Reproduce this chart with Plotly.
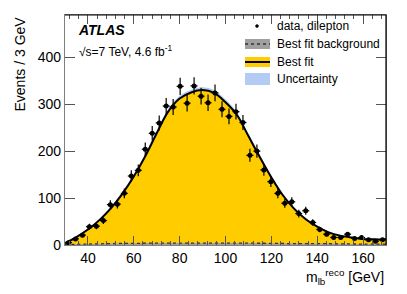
import numpy as np
import plotly.graph_objects as go

# ---- data ----
bin_centers = [31.52, 34.57, 37.61, 40.65, 43.70, 46.74, 49.78, 52.83, 55.87, 58.91,
               61.96, 65.00, 68.04, 71.09, 74.13, 77.17, 80.22, 83.26, 86.30, 89.35,
               92.39, 95.43, 98.48, 101.52, 104.57, 107.61, 110.65, 113.70, 116.74, 119.78,
               122.83, 125.87, 128.91, 131.96, 135.00, 138.04, 141.09, 144.13, 147.17, 150.22,
               153.26, 156.30, 159.35, 162.39, 165.43, 168.48]
data_counts = [5, 13, 21, 39, 40, 52, 86, 87, 110, 147,
               159, 204, 238, 260, 296, 294, 338, 302, 339, 317,
               303, 324, 289, 274, 284, 261, 191, 200, 160, 135,
               110, 89, 92, 67, 73, 48, 33, 23, 16, 16,
               23, 14, 16, 11, 8, 11]
half_bin = 1.52

fit_x = [30, 35, 40, 45, 50, 55, 60, 65, 70, 75, 80, 85, 90, 95, 100, 105, 110, 115, 120,
         125, 130, 135, 140, 145, 150, 155, 160, 165, 170]
fit_y = [4, 17, 33, 53, 78, 109, 146, 189, 238, 284, 312, 325, 330, 324, 304, 277, 232, 187, 144,
         106, 77, 55, 39, 27, 20, 16, 13, 12, 12]
fit_unc = [1, 2, 3, 3, 4, 4, 5, 5, 6, 6, 6, 6, 6, 6, 6, 6, 5, 5, 4,
           4, 3, 3, 2, 2, 2, 1, 1, 1, 1]

bg_x = [30, 40, 50, 60, 70, 80, 90, 100, 110, 120, 130, 140, 150, 160, 170]
bg_y = [1, 2, 3, 3.5, 4, 4, 4, 4, 4, 3.5, 3, 3, 2.5, 2, 2]

x_ticks = [40, 60, 80, 100, 120, 140, 160]
y_ticks = [0, 100, 200, 300, 400]

FONT = "Liberation Sans, Arial, Helvetica, sans-serif"
YELLOW = "#ffcc00"
BLUE = "#b3cbf5"
GREY = "#a0a0a0"

fig = go.Figure()

band_lo = [y - u for y, u in zip(fit_y, fit_unc)]
band_hi = [y + u for y, u in zip(fit_y, fit_unc)]

fig.add_trace(go.Scatter(x=fit_x, y=band_lo, mode="lines", line=dict(width=0, shape="spline"),
                         showlegend=False, hoverinfo="skip"))
fig.add_trace(go.Scatter(x=fit_x, y=band_hi, mode="lines", line=dict(width=0, shape="spline"),
                         fill="tonexty", fillcolor=BLUE, showlegend=False, hoverinfo="skip"))
fig.add_trace(go.Scatter(x=fit_x, y=fit_y, mode="lines", line=dict(width=0, shape="spline"),
                         fill="tozeroy", fillcolor=YELLOW, showlegend=False, hoverinfo="skip"))
fig.add_trace(go.Scatter(x=bg_x, y=bg_y, mode="lines", line=dict(width=0, shape="spline"),
                         fill="tozeroy", fillcolor=GREY, showlegend=False, hoverinfo="skip"))
fig.add_trace(go.Scatter(x=bg_x, y=bg_y, mode="lines",
                         line=dict(width=1.3, color="#333333", dash="dot", shape="spline"),
                         showlegend=False, hoverinfo="skip"))
fig.add_trace(go.Scatter(x=fit_x, y=fit_y, mode="lines", line=dict(width=2, color="black", shape="spline"),
                         showlegend=False, hoverinfo="skip"))

errs = np.sqrt(np.array(data_counts, dtype=float))
fig.add_trace(go.Scatter(x=bin_centers, y=data_counts, mode="markers",
                         marker=dict(color="black", size=5),
                         error_y=dict(type="data", array=errs, color="black", thickness=1.2, width=0),
                         error_x=dict(type="constant", value=half_bin, color="black", thickness=1.2, width=0),
                         showlegend=False))

# frame top/right in black
fig.add_shape(type="line", xref="paper", yref="paper", x0=0, x1=1, y0=1, y1=1,
              line=dict(color="black", width=1.2))
fig.add_shape(type="line", xref="paper", yref="paper", x0=1, x1=1, y0=0, y1=1,
              line=dict(color="black", width=1.2))

# legend (manual)
def px_to_paper_x(px):
    return (px - 65) / (386 - 65)

def px_to_paper_y(py):
    return (245 - py) / (245 - 15)

rows = [26, 44, 62, 79]
labels = ["data, dilepton", "Best fit background", "Best fit", "Uncertainty"]
bx0, bx1 = 245, 270
# data marker
fig.add_shape(type="circle", xref="paper", yref="paper",
              x0=px_to_paper_x(255.5), x1=px_to_paper_x(258.5),
              y0=px_to_paper_y(rows[0] + 1.5), y1=px_to_paper_y(rows[0] - 1.5),
              fillcolor="black", line=dict(color="black", width=0.5))
# background box
fig.add_shape(type="rect", xref="paper", yref="paper",
              x0=px_to_paper_x(bx0), x1=px_to_paper_x(bx1),
              y0=px_to_paper_y(rows[1] + 5), y1=px_to_paper_y(rows[1] - 5),
              fillcolor=GREY, line=dict(width=0))
fig.add_shape(type="line", xref="paper", yref="paper",
              x0=px_to_paper_x(bx0), x1=px_to_paper_x(bx1),
              y0=px_to_paper_y(rows[1]), y1=px_to_paper_y(rows[1]),
              line=dict(color="#333333", width=1.3, dash="dot"))
# best fit box
fig.add_shape(type="rect", xref="paper", yref="paper",
              x0=px_to_paper_x(bx0), x1=px_to_paper_x(bx1),
              y0=px_to_paper_y(rows[2] + 5), y1=px_to_paper_y(rows[2] - 5),
              fillcolor=YELLOW, line=dict(width=0))
fig.add_shape(type="line", xref="paper", yref="paper",
              x0=px_to_paper_x(bx0), x1=px_to_paper_x(bx1),
              y0=px_to_paper_y(rows[2]), y1=px_to_paper_y(rows[2]),
              line=dict(color="black", width=2))
# uncertainty box
fig.add_shape(type="rect", xref="paper", yref="paper",
              x0=px_to_paper_x(bx0), x1=px_to_paper_x(bx1),
              y0=px_to_paper_y(rows[3] + 6), y1=px_to_paper_y(rows[3] - 6),
              fillcolor=BLUE, line=dict(width=0))
for r, lab in zip(rows, labels):
    fig.add_annotation(xref="paper", yref="paper", x=px_to_paper_x(275), y=px_to_paper_y(r),
                       text=lab, showarrow=False, xanchor="left", yanchor="middle",
                       font=dict(family=FONT, size=12, color="black"))

# ATLAS label
fig.add_annotation(xref="paper", yref="paper", x=px_to_paper_x(76), y=px_to_paper_y(30),
                   text="<b><i>ATLAS</i></b>", showarrow=False, xanchor="left", yanchor="middle",
                   font=dict(family=FONT, size=14, color="black"))
fig.add_annotation(xref="paper", yref="paper", x=px_to_paper_x(77), y=px_to_paper_y(51),
                   text="\u221as=7 TeV, 4.6 fb<sup>-1</sup>", showarrow=False, xanchor="left",
                   yanchor="middle", font=dict(family=FONT, size=12, color="black"))

# axis titles
fig.add_annotation(xref="paper", yref="paper", x=1, y=px_to_paper_y(265),
                   text="m<sub>lb</sub><sup>reco</sup> [GeV]", showarrow=False,
                   xanchor="right", yanchor="top", font=dict(family=FONT, size=14, color="black"))
fig.add_annotation(xref="paper", yref="paper", x=px_to_paper_x(19), y=1,
                   text="Events / 3 GeV", showarrow=False, textangle=-90,
                   xanchor="center", yanchor="top", font=dict(family=FONT, size=14, color="black"))

fig.update_layout(
    width=407, height=294,
    margin=dict(l=65, r=21, t=15, b=49),
    paper_bgcolor="white", plot_bgcolor="white",
    showlegend=False,
    font=dict(family=FONT, size=14, color="black"),
)
fig.update_xaxes(range=[30, 170], tickvals=x_ticks, ticks="inside", ticklen=9, tickwidth=1,
                 tickcolor="#555555", showline=True, linecolor="#808080", linewidth=1.2,
                 mirror="allticks", showgrid=False, zeroline=False,
                 tickfont=dict(family=FONT, size=14, color="black"),
                 minor=dict(dtick=4, ticks="inside", ticklen=4, tickcolor="#555555", showgrid=False))
fig.update_yaxes(range=[0, 490], tickvals=y_ticks, ticks="inside", ticklen=10, tickwidth=1,
                 tickcolor="#555555", showline=True, linecolor="#808080", linewidth=1.2,
                 mirror="allticks", showgrid=False, zeroline=False,
                 tickfont=dict(family=FONT, size=14, color="black"))

fig.write_html("out.html", config={"displayModeBar": False},
               post_script="document.body.style.margin='0';document.body.style.overflow='hidden';")
